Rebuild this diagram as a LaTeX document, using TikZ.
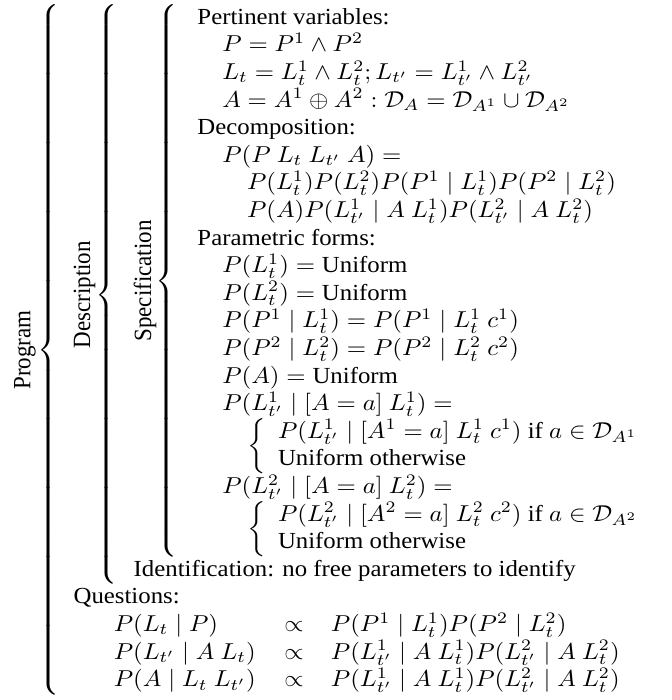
\documentclass[tikz,border=0pt]{standalone}
\usepackage{amsmath}
\usepackage{fontspec}
\setmainfont{Liberation Serif}
\usepackage{graphicx}
\newcommand{\sidelabel}[1]{\vcenter{\hbox{\rotatebox{90}{#1}}}}
\begin{document}
\begin{tikzpicture}
\useasboundingbox (0,0) rectangle (292.17pt,304.35pt);
\node[inner sep=0pt, anchor=north west] (prog) at (6pt,302.4pt) {\scalebox{1.078}[1]{$\displaystyle
\sidelabel{Program}\mkern-2mu\left\{\begin{array}{@{\hspace{5.8pt}}l@{}}
\sidelabel{Description}\mkern-3mu\left\{\begin{array}{@{\hspace{6.6pt}}l@{}}
\sidelabel{Specification}\mkern-4mu\left\{\begin{array}{@{\hspace{8.2pt}}l@{}}
\text{Pertinent variables:}\\
\quad P = P^1 \wedge P^2\\
\quad L_t = L_t^1 \wedge L_t^2; L_{t'} = L_{t'}^1 \wedge L_{t'}^2\\
\quad A = A^1 \oplus A^2 : \mathcal{D}_A = \mathcal{D}_{A^1} \cup \mathcal{D}_{A^2}\\
\text{Decomposition:}\\
\quad P(P\ L_t\ L_{t'}\ A) =\\
\qquad P(L_t^1)P(L_t^2)P(P^1 \mid L_t^1)P(P^2 \mid L_t^2)\\
\qquad P(A)P(L_{t'}^1 \mid A\ L_t^1)P(L_{t'}^2 \mid A\ L_t^2)\\
\text{Parametric forms:}\\
\quad P(L_t^1) = \text{Uniform}\\
\quad P(L_t^2) = \text{Uniform}\\
\quad P(P^1 \mid L_t^1) = P(P^1 \mid L_t^1\ c^1)\\
\quad P(P^2 \mid L_t^2) = P(P^2 \mid L_t^2\ c^2)\\
\quad P(A) = \text{Uniform}\\
\quad P(L_{t'}^1 \mid [A=a]\ L_t^1) =\\
\qquad\left\{\begin{array}{l} P(L_{t'}^1 \mid [A^1=a]\ L_t^1\ c^1) \text{ if } a\in\mathcal{D}_{A^1}\\ \text{Uniform otherwise}\end{array}\right.\\
\quad P(L_{t'}^2 \mid [A=a]\ L_t^2) =\\
\qquad\left\{\begin{array}{l} P(L_{t'}^2 \mid [A^2=a]\ L_t^2\ c^2) \text{ if } a\in\mathcal{D}_{A^2}\\ \text{Uniform otherwise}\end{array}\right.
\end{array}\right.\\
\text{Identification: no free parameters to identify}
\end{array}\right.\\
\text{Questions:}\\
\hspace{16.2pt}\begin{array}{@{}l@{\hspace{11.5pt}}c@{\hspace{11pt}}l@{}}
P(L_t \mid P) & \propto & P(P^1 \mid L_t^1)P(P^2 \mid L_t^2)\\
P(L_{t'} \mid A\ L_t) & \propto & P(L_{t'}^1 \mid A\ L_t^1)P(L_{t'}^2 \mid A\ L_t^2)\\
P(A \mid L_t\ L_{t'}) & \propto & P(L_{t'}^1 \mid A\ L_t^1)P(L_{t'}^2 \mid A\ L_t^2)
\end{array}
\end{array}\right.$}};
\end{tikzpicture}
\end{document}
